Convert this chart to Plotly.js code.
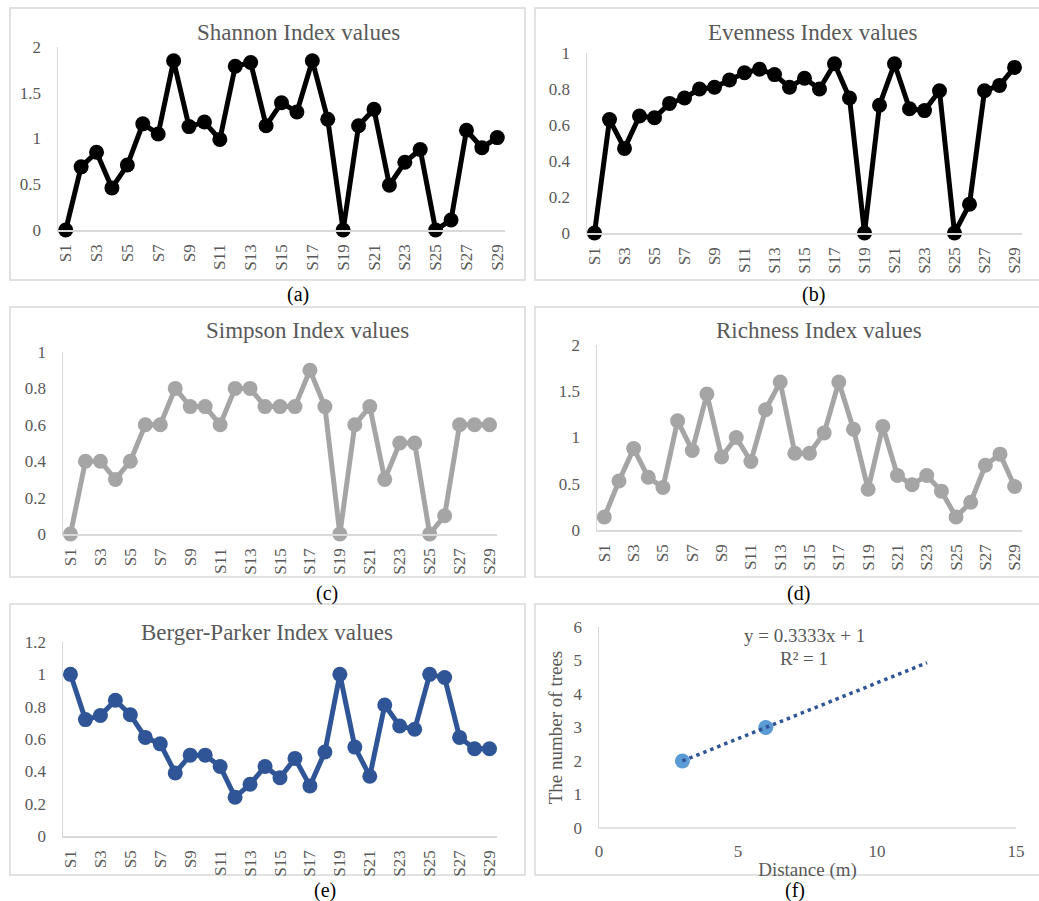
<!DOCTYPE html>
<html>
<head>
<meta charset="utf-8">
<script src="https://cdn.plot.ly/plotly-3.0.1.min.js"></script>
<style>
  html, body { margin: 0; padding: 0; background: #ffffff; }
  #chart { width: 1039px; height: 901px; }
</style>
</head>
<body>
<div id="chart"></div>
<script>
// ---------- data ----------
const sites = ['S1','S2','S3','S4','S5','S6','S7','S8','S9','S10','S11','S12','S13','S14','S15',
               'S16','S17','S18','S19','S20','S21','S22','S23','S24','S25','S26','S27','S28','S29'];
const siteTicks = ['S1','S3','S5','S7','S9','S11','S13','S15','S17','S19','S21','S23','S25','S27','S29'];

const shannon  = [0, 0.69, 0.85, 0.46, 0.71, 1.16, 1.05, 1.85, 1.13, 1.18, 0.99, 1.79, 1.83, 1.14, 1.39,
                  1.29, 1.85, 1.21, 0, 1.14, 1.32, 0.49, 0.74, 0.88, 0, 0.11, 1.09, 0.90, 1.01];
const evenness = [0, 0.63, 0.47, 0.65, 0.64, 0.72, 0.75, 0.80, 0.81, 0.85, 0.89, 0.91, 0.88, 0.81, 0.86,
                  0.80, 0.94, 0.75, 0, 0.71, 0.94, 0.69, 0.68, 0.79, 0, 0.16, 0.79, 0.82, 0.92];
const simpson  = [0, 0.4, 0.4, 0.3, 0.4, 0.6, 0.6, 0.8, 0.7, 0.7, 0.6, 0.8, 0.8, 0.7, 0.7,
                  0.7, 0.9, 0.7, 0, 0.6, 0.7, 0.3, 0.5, 0.5, 0, 0.1, 0.6, 0.6, 0.6];
const richness = [0.14, 0.53, 0.88, 0.57, 0.46, 1.18, 0.86, 1.47, 0.79, 1.00, 0.74, 1.30, 1.60, 0.83, 0.83,
                  1.05, 1.60, 1.09, 0.44, 1.12, 0.59, 0.49, 0.59, 0.42, 0.14, 0.30, 0.70, 0.82, 0.47];
const bergerParker = [1.0, 0.72, 0.745, 0.84, 0.75, 0.61, 0.57, 0.39, 0.50, 0.50, 0.43, 0.24, 0.32, 0.43, 0.36,
                  0.48, 0.31, 0.52, 1.0, 0.55, 0.37, 0.81, 0.68, 0.66, 1.0, 0.98, 0.61, 0.54, 0.54];

const distance = [3, 6];
const trees    = [2, 3];
const trendSlope = 0.3333;
const trendIntercept = 1;
const trendX = [3, 11.8];

const panelTitles = ['Shannon Index values', 'Evenness Index values', 'Simpson Index values',
                     'Richness Index values', 'Berger-Parker Index values'];
const captions = ['(a)', '(b)', '(c)', '(d)', '(e)', '(f)'];

// ---------- styling ----------
const W = 1039, H = 901;
const FONT = '"Liberation Serif", "Times New Roman", serif';
const GREY_TXT = '#595959';
const AXIS_LINE = '#d9d9d9';
const px = v => v / W;
const py = v => 1 - v / H;

// plot-area rectangles in pixels [x0, x1, yTop, yBottom]
const areas = [
  [58, 505, 47, 230],
  [587, 1022, 53, 233],
  [63, 497, 352, 534],
  [597, 1022, 345, 530],
  [63, 497, 642, 836],
  [599, 1016, 627, 828]
];
const yRanges = [[0, 2], [0, 1], [0, 1], [0, 2], [0, 1.2]];
const yDticks = [0.5, 0.2, 0.2, 0.5, 0.2];
const seriesList = [shannon, evenness, simpson, richness, bergerParker];
const colors = ['#000000', '#000000', '#a5a5a5', '#a5a5a5', '#2f5597'];

const traces = [];
const layout = {
  width: W, height: H,
  margin: {l: 0, r: 0, t: 0, b: 0},
  paper_bgcolor: '#ffffff', plot_bgcolor: '#ffffff',
  showlegend: false,
  font: {family: FONT, color: GREY_TXT},
  annotations: [], shapes: []
};

for (let i = 0; i < 5; i++) {
  const n = i + 1;
  const xa = 'x' + (n === 1 ? '' : n), ya = 'y' + (n === 1 ? '' : n);
  traces.push({
    type: 'scatter', mode: 'lines+markers',
    x: sites, y: seriesList[i], xaxis: xa, yaxis: ya,
    line: {color: colors[i], width: 5},
    marker: {color: colors[i], size: 15},
    cliponaxis: false, hoverinfo: 'x+y'
  });
  const a = areas[i];
  layout['xaxis' + (n === 1 ? '' : n)] = {
    domain: [px(a[0]), px(a[1])], anchor: ya,
    type: 'category', categoryorder: 'array', categoryarray: sites,
    range: [-0.5, sites.length - 0.5],
    tickvals: siteTicks, ticktext: siteTicks, tickangle: -90,
    showgrid: false, zeroline: false, showline: true, linecolor: AXIS_LINE, linewidth: 1.5,
    ticks: 'outside', ticklen: 6, tickcolor: 'rgba(0,0,0,0)',
    tickfont: {family: FONT, size: 17, color: GREY_TXT}
  };
  layout['yaxis' + (n === 1 ? '' : n)] = {
    domain: [py(a[3]), py(a[2])], anchor: xa,
    range: yRanges[i], dtick: yDticks[i], tick0: 0,
    showgrid: false, zeroline: false, showline: true, linecolor: AXIS_LINE, linewidth: 1.5,
    ticks: 'outside', ticklen: 12, tickcolor: 'rgba(0,0,0,0)',
    tickfont: {family: FONT, size: 17, color: GREY_TXT}
  };
}

// panel (f)
const trendLine = {color: '#2f5597', width: 3.5, dash: '3.5px,4px'};
traces.push({
  type: 'scatter', mode: 'markers',
  x: distance, y: trees, xaxis: 'x6', yaxis: 'y6',
  marker: {color: '#5b9bd5', size: 15}, cliponaxis: false
});
traces.push({
  type: 'scatter', mode: 'lines',
  x: trendX, y: trendX.map(v => trendSlope * v + trendIntercept),
  xaxis: 'x6', yaxis: 'y6',
  line: trendLine, hoverinfo: 'skip'
});
const f = areas[5];
layout.xaxis6 = {
  domain: [px(f[0]), px(f[1])], anchor: 'y6', range: [0, 15], dtick: 5,
  showgrid: false, zeroline: false, showline: false,
  ticks: 'outside', ticklen: 8, tickcolor: 'rgba(0,0,0,0)',
  tickfont: {family: FONT, size: 17, color: GREY_TXT},
  title: {text: 'Distance (m)', font: {family: FONT, size: 19, color: GREY_TXT}, standoff: 2}
};
layout.yaxis6 = {
  domain: [py(f[3]), py(f[2])], anchor: 'x6', range: [0, 6], dtick: 1,
  showgrid: false, zeroline: false, showline: true, linecolor: AXIS_LINE, linewidth: 1.5,
  ticks: 'outside', ticklen: 12, tickcolor: 'rgba(0,0,0,0)',
  tickfont: {family: FONT, size: 17, color: GREY_TXT},
  title: {text: 'The number of trees', font: {family: FONT, size: 19, color: GREY_TXT}, standoff: 6}
};
// x axis line for panel f
layout.shapes.push({type: 'line', xref: 'paper', yref: 'paper',
  x0: px(f[0]), x1: px(1016), y0: py(f[3]), y1: py(f[3]), line: {color: AXIS_LINE, width: 1.5}});

layout.annotations.push({xref: 'paper', yref: 'paper', x: px(804), y: py(635), text: 'y = 0.3333x + 1',
  showarrow: false, xanchor: 'center', yanchor: 'middle', font: {family: FONT, size: 19, color: GREY_TXT}});
layout.annotations.push({xref: 'paper', yref: 'paper', x: px(804), y: py(658), text: 'R² = 1',
  showarrow: false, xanchor: 'center', yanchor: 'middle', font: {family: FONT, size: 19, color: GREY_TXT}});

// panel borders
const borders = [
  [10, 525, 8, 280], [535, 1045, 8, 280],
  [10, 525, 307, 577], [535, 1045, 307, 577],
  [10, 525, 604, 875], [535, 1045, 604, 875]
];
borders.forEach(b => layout.shapes.push({type: 'rect', xref: 'paper', yref: 'paper',
  x0: px(b[0]), x1: px(b[1]), y0: py(b[3]), y1: py(b[2]), line: {color: AXIS_LINE, width: 1.5},
  layer: 'below'}));

// panel titles
const titlePos = [[298, 33], [813, 33], [307, 330], [819, 330], [267, 632]];
panelTitles.forEach((t, i) => layout.annotations.push({xref: 'paper', yref: 'paper',
  x: px(titlePos[i][0]), y: py(titlePos[i][1]), text: t, showarrow: false,
  xanchor: 'center', yanchor: 'middle', font: {family: FONT, size: 23, color: GREY_TXT}}));

// captions
const capPos = [[298, 294], [813, 294], [327, 593], [798, 593], [325, 890], [795, 890]];
captions.forEach((c, i) => layout.annotations.push({xref: 'paper', yref: 'paper',
  x: px(capPos[i][0]), y: py(capPos[i][1]), text: c, showarrow: false,
  xanchor: 'center', yanchor: 'middle', font: {family: FONT, size: 20, color: '#000000'}}));

Plotly.newPlot('chart', traces, layout, {displayModeBar: false, staticPlot: true});
</script>
</body>
</html>
